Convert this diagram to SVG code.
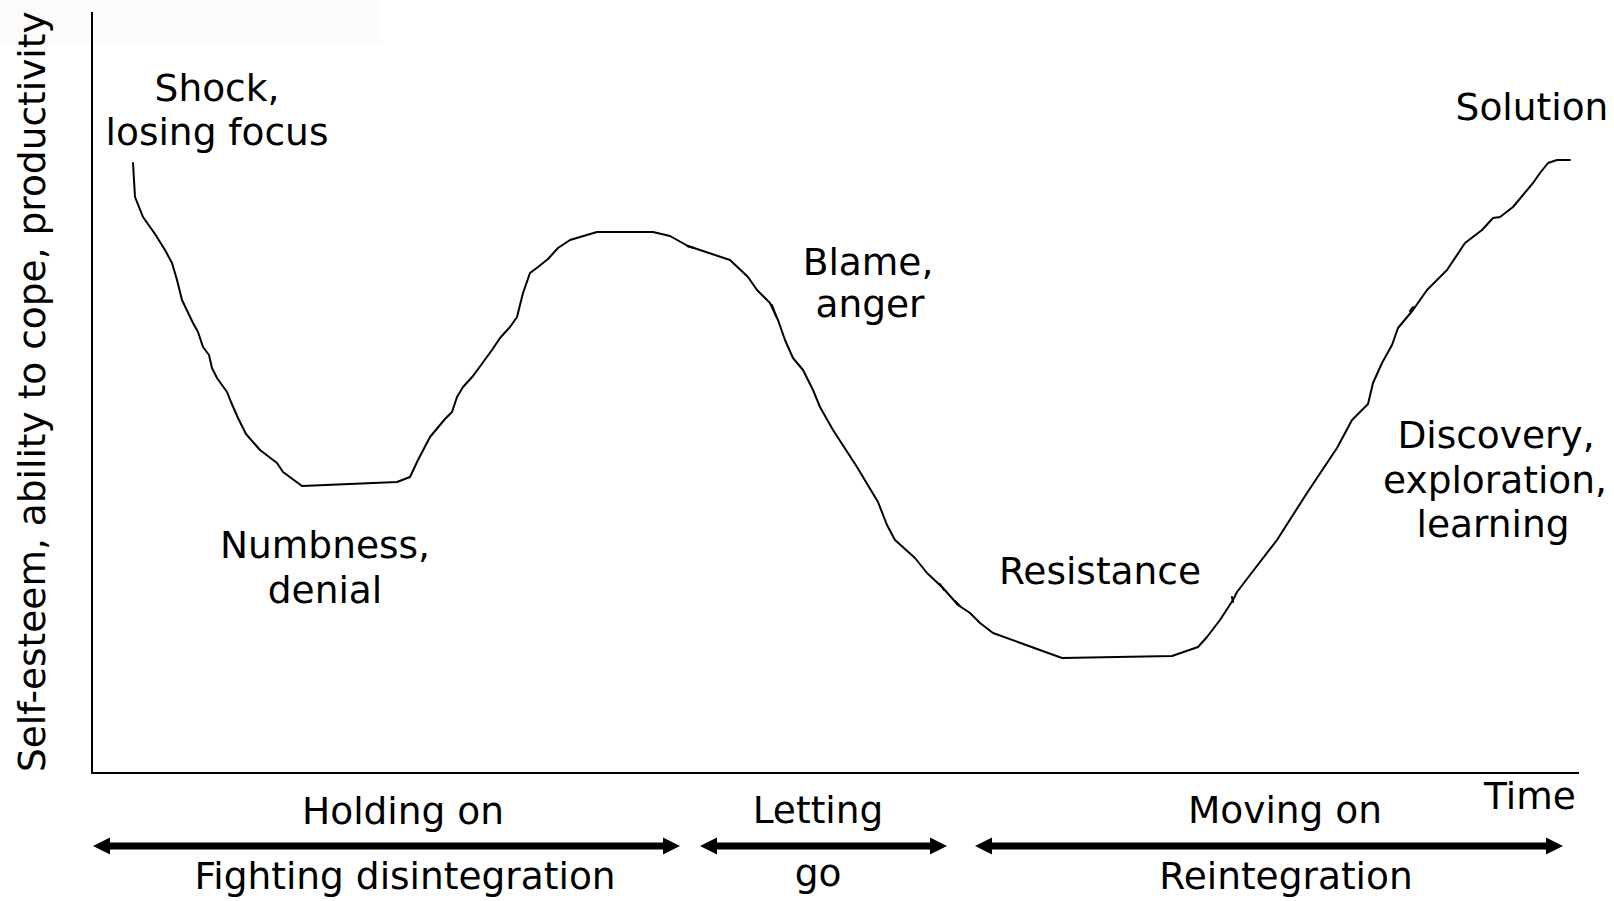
<svg xmlns="http://www.w3.org/2000/svg" width="1614" height="901" viewBox="0 0 1614 901">
  <style>
    .lbl { font-family: "DejaVu Sans", Verdana, sans-serif; font-size: 37.5px; fill: #000; text-anchor: middle; }
    .axis { fill: none; stroke: #000; stroke-width: 2; }
    .curve { fill: none; stroke: #000; stroke-width: 2; stroke-linejoin: round; stroke-linecap: round; }
    .span { stroke: #000; stroke-width: 7; marker-start: url(#head); marker-end: url(#head); }
  </style>
  <defs>
    <marker id="head" markerUnits="userSpaceOnUse" viewBox="0 -9 17 18" markerWidth="17" markerHeight="18" refX="7" refY="0" orient="auto-start-reverse">
      <path d="M0,-8.5 L17,0 L0,8.5 z" fill="#000"/>
    </marker>
  </defs>

  <rect x="0" y="0" width="1614" height="901" fill="#fff"/>
  <rect x="0" y="0" width="380" height="43" fill="#fbfbfb"/>

  <!-- axes -->
  <g id="axes">
    <path class="axis" d="M92,12 V773 H1579"/>
    <text class="lbl" style="text-anchor:start" transform="translate(45,772) rotate(-90)">Self-esteem, ability to cope, productivity</text>
    <text class="lbl" x="1530" y="809">Time</text>
  </g>

  <!-- change curve -->
  <g id="curve">
    <polyline class="curve" points="133,163 135,197 143,217 155,234 165,250 172,263 177,280 182,300 193,323 198,332 203,347 209,355 212,368 217,378 227,392 231,402 238,418 246,434 260,450 277,463 283,472 302,486 397,482 410,477 418,460 430,437 445,419 452,412 457,397 463,387 473,376 492,350 500,338 510,327 517,317 523,293 530,273 538,267 548,259 558,248 570,240 597,232 653,232 670,236 688,246 730,260 748,277 757,290 770,303 778,320 785,340 793,358 803,370 813,390 820,407 833,430 857,467 878,502 887,525 895,540 915,558 927,573 943,588 958,605 970,613 980,623 993,633 1062,658 1172,656 1198,647 1207,637 1220,620 1233,600 1237,592 1250,575 1277,540 1307,493 1337,448 1352,420 1368,404 1373,383 1382,363 1392,345 1398,328 1413,310 1427,290 1447,270 1465,243 1482,230 1493,218 1500,217 1513,207 1533,183 1540,173 1548,163 1557,160 1570,160"/>
    <!-- small pen ticks along the stroke -->
    <path class="curve" d="M687,246 L694,248 M772,305 L776,316 M940,584 L944,590 M955,601 L960,606 M1232,597 L1233,602 M1413,307 L1410,311"/>
  </g>

  <!-- stage labels on the curve -->
  <g id="shock">
    <text class="lbl" x="217" y="101">Shock,</text>
    <text class="lbl" x="217" y="145">losing focus</text>
  </g>
  <g id="numbness">
    <text class="lbl" x="325" y="558">Numbness,</text>
    <text class="lbl" x="325" y="603">denial</text>
  </g>
  <g id="blame">
    <text class="lbl" x="868" y="275">Blame,</text>
    <text class="lbl" x="870" y="317">anger</text>
  </g>
  <g id="resistance">
    <text class="lbl" x="1100" y="584">Resistance</text>
  </g>
  <g id="discovery">
    <text class="lbl" x="1496" y="448">Discovery,</text>
    <text class="lbl" x="1495" y="493">exploration,</text>
    <text class="lbl" x="1493" y="537">learning</text>
  </g>
  <g id="solution">
    <text class="lbl" x="1532" y="120">Solution</text>
  </g>

  <!-- phase spans under the time axis -->
  <g id="connectors">
    <line class="span" x1="103" y1="846" x2="670" y2="846"/>
    <line class="span" x1="710" y1="846" x2="937" y2="846"/>
    <line class="span" x1="985" y1="846" x2="1553" y2="846"/>
  </g>
  <g id="phase-holding">
    <text class="lbl" x="403" y="824">Holding on</text>
    <text class="lbl" x="405" y="889">Fighting disintegration</text>
  </g>
  <g id="phase-letting">
    <text class="lbl" x="818" y="823">Letting</text>
    <text class="lbl" x="818" y="886">go</text>
  </g>
  <g id="phase-moving">
    <text class="lbl" x="1285" y="823">Moving on</text>
    <text class="lbl" x="1286" y="889">Reintegration</text>
  </g>
</svg>
